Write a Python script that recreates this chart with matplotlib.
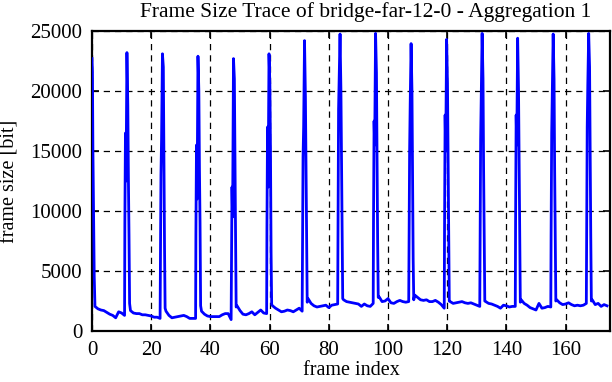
import matplotlib
matplotlib.use("Agg")
import matplotlib.pyplot as plt

# per-frame sizes between the I-frame spikes (GOP of 12 frames)
gop_base_bits = [
    [2050, 1850, 1750, 1700, 1550, 1400, 1300, 1100, 1600, 1500, 1300],
    [1700, 1500, 1450, 1450, 1350, 1350, 1300, 1250, 1150, 1150, 1050],
    [1650, 1300, 1100, 1150, 1200, 1250, 1300, 1200, 1050, 1050, 1050],
    [1650, 1400, 1250, 1200, 1200, 1200, 1200, 1350, 1450, 1450, 950],
    [2100, 1700, 1400, 1350, 1450, 1600, 1350, 1550, 1750, 1500, 1450],
    [2100, 1900, 1750, 1600, 1650, 1750, 1700, 1600, 1750, 1900, 1650],
    [2700, 2300, 2100, 2000, 2050, 2100, 2150, 1950, 2150, 2200, 2250],
    [2600, 2450, 2400, 2350, 2300, 2250, 2050, 2250, 2100, 2050, 2300],
    [2850, 2450, 2500, 2700, 2350, 2300, 2450, 2550, 2450, 2400, 2450],
    [3000, 2800, 2600, 2550, 2600, 2450, 2450, 2550, 2400, 2200, 1900],
    [2450, 2300, 2350, 2400, 2450, 2350, 2300, 2350, 2250, 2150, 2050],
    [2450, 2300, 2250, 2150, 2050, 1900, 2150, 2100, 2000, 2050, 2050],
    [2600, 2300, 2150, 1950, 1850, 1750, 2300, 1900, 1950, 2050, 2000],
    [2600, 2350, 2200, 2250, 2350, 2200, 2100, 2150, 2100, 2150, 2300],
    [2600, 2200, 2300, 2050, 2200, 2100],
]

# samples inside the I-frame spikes
spike_x = [
    0.0, 0.15, 0.3, 0.45, 0.6, 0.75,
    11.1, 11.3, 11.5, 11.8, 12.1, 12.3, 12.5, 12.7,
    23.1, 23.3, 23.5, 23.8, 24.1, 24.3, 24.5, 24.7,
    35.1, 35.3, 35.5, 35.8, 36.1, 36.3, 36.5, 36.7,
    47.1, 47.3, 47.5, 47.8, 48.1, 48.3, 48.5, 48.7,
    59.1, 59.3, 59.5, 59.8, 60.1, 60.3, 60.5, 60.7,
    71.1, 71.3, 71.5, 71.8, 72.1, 72.3, 72.5, 72.7,
    83.1, 83.3, 83.5, 83.8, 84.1, 84.3, 84.5, 84.7,
    95.1, 95.3, 95.5, 95.8, 96.1, 96.3, 96.5, 96.7,
    107.1, 107.3, 107.5, 107.8, 108.1, 108.3, 108.5, 108.7,
    119.1, 119.3, 119.5, 119.8, 120.1, 120.3, 120.5, 120.7,
    131.1, 131.3, 131.5, 131.8, 132.1, 132.3, 132.5, 132.7,
    143.1, 143.3, 143.5, 143.8, 144.1, 144.3, 144.5, 144.7,
    155.1, 155.3, 155.5, 155.8, 156.1, 156.3, 156.5, 156.7,
    167.1, 167.3, 167.5, 167.8, 168.1, 168.3, 168.5, 168.7,
]
spike_bits = [
    22700, 21500, 15300, 11700, 8300, 4600,
    9000, 16500, 12500, 23200, 18800, 12700, 8000, 2300,
    5500, 13000, 16000, 23100, 22000, 14500, 7000, 1900,
    8000, 15500, 11000, 22900, 20000, 13500, 9000, 2100,
    4500, 12000, 9500, 22700, 21000, 14000, 8000, 2000,
    8500, 17000, 12000, 23100, 20500, 15000, 6500, 2200,
    6000, 14500, 17000, 24200, 19500, 14000, 9000, 2400,
    7500, 18500, 21000, 24750, 20000, 14000, 8000, 2700,
    9000, 17500, 15500, 24800, 21500, 14000, 7500, 2800,
    7000, 15000, 19000, 23950, 20000, 12500, 6000, 2600,
    8500, 18000, 15000, 24300, 20500, 14500, 7500, 2500,
    6500, 16000, 19500, 24800, 21000, 13500, 8000, 2500,
    9000, 18000, 15500, 24400, 20000, 14000, 7000, 2400,
    8000, 16500, 20000, 24750, 21000, 13500, 7500, 2500,
    7500, 17000, 20500, 24800, 22000, 15000, 8000, 2500,
]

x_ticks = [0, 20, 40, 60, 80, 100, 120, 140, 160]
y_ticks = [0, 5000, 10000, 15000, 20000, 25000]

points = list(zip(spike_x, spike_bits))
for g, vals in enumerate(gop_base_bits):
    for i, v in enumerate(vals):
        points.append((12 * g + 1 + i, v))
points.sort()
xs = [p[0] for p in points]
ys = [p[1] for p in points]

plt.rcParams['font.family'] = ['Liberation Serif', 'DejaVu Serif']
plt.rcParams['font.size'] = 15

fig = plt.figure(figsize=(6.12, 3.82), dpi=100)
ax = fig.add_axes([92 / 612, 1 - 331 / 382, 518 / 612, 300 / 382])

ax.plot(xs, ys, color='#0000ff', lw=2.0, zorder=3)

ax.set_xlim(0, 175)
ax.set_ylim(0, 25000)
ax.set_xticks(x_ticks)
ax.set_yticks(y_ticks)
ax.tick_params(direction='in', length=5, width=1.2, top=True, right=True, pad=7)
ax.grid(True, color='black', ls=(0, (5, 4)), lw=0.9)
for s in ax.spines.values():
    s.set_linewidth(1.6)

ax.set_xlabel('frame index', fontsize=14.5, labelpad=1)
ax.set_ylabel('frame size [bit]', fontsize=14.5, labelpad=8)
fig.text(366 / 612, 1 - 12 / 382, 'Frame Size Trace of bridge-far-12-0 - Aggregation 1',
         ha='center', va='center', fontsize=15.5)

fig.savefig('out.png', dpi=100)
